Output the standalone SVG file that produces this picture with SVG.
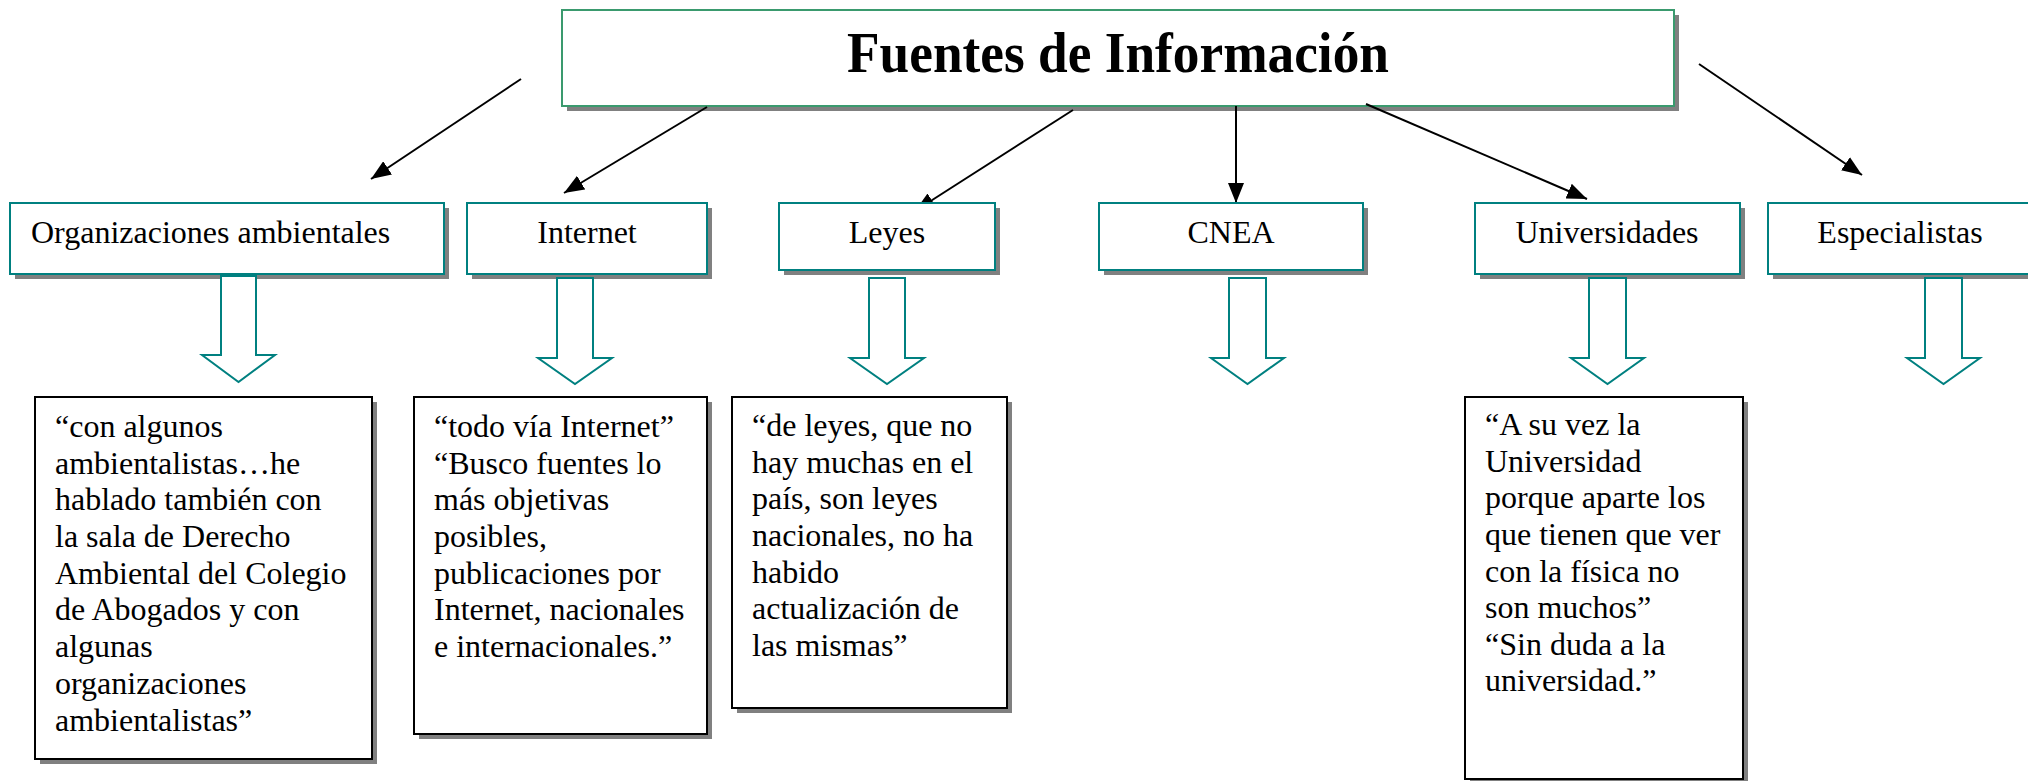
<svg xmlns="http://www.w3.org/2000/svg" width="2028" height="781" viewBox="0 0 2028 781">
<defs>
<style>
.shadow{fill:#808080;stroke:none}
.main{fill:#ffffff;stroke:#3a9a6e;stroke-width:2}
.cat{fill:#ffffff;stroke:#008080;stroke-width:2}
.quote{fill:#ffffff;stroke:#000000;stroke-width:2}
.block{fill:#ffffff;stroke:#008080;stroke-width:2;stroke-linejoin:miter}
.t{font-family:"Liberation Serif","Times New Roman",serif;font-size:32px;fill:#000000}
.title{font-family:"Liberation Serif","Times New Roman",serif;font-size:58px;font-weight:bold;fill:#000000}
.conn line{stroke:#000000;stroke-width:2;marker-end:url(#ah)}
</style>
<marker id="ah" markerUnits="userSpaceOnUse" markerWidth="22" markerHeight="16" refX="20" refY="8" orient="auto">
<path d="M0,0 L20,8 L0,16 z" fill="#000000"/>
</marker>
</defs>
<rect width="2028" height="781" fill="#ffffff"/>

<g id="main">
<rect class="shadow" x="567" y="15" width="1112" height="96"/>
<rect class="main" x="562" y="10" width="1112" height="96"/>
<text class="title" x="1118" y="72" text-anchor="middle" textLength="542" lengthAdjust="spacingAndGlyphs">Fuentes de Información</text>
</g>

<g id="connectors" class="conn">
<line x1="521" y1="79" x2="371" y2="179"/>
<line x1="707" y1="107" x2="564" y2="193"/>
<line x1="1073" y1="110" x2="915" y2="211"/>
<line x1="1236" y1="106" x2="1236" y2="203"/>
<line x1="1366" y1="104" x2="1587" y2="199"/>
<line x1="1699" y1="64" x2="1862" y2="175"/>
</g>

<g id="cat-org">
<rect class="shadow" x="15" y="208" width="434" height="71"/>
<rect class="cat" x="10" y="203" width="434" height="71"/>
<text class="t" x="31" y="243">Organizaciones ambientales</text>
<path class="block" d="M221,276 H256 V355 H275 L238.5,382 L202,355 H221 Z"/>
</g>

<g id="cat-internet">
<rect class="shadow" x="472" y="208" width="240" height="71"/>
<rect class="cat" x="467" y="203" width="240" height="71"/>
<text class="t" x="587" y="243" text-anchor="middle">Internet</text>
<path class="block" d="M557,278 H593 V358 H612 L575,384 L538,358 H557 Z"/>
</g>

<g id="cat-leyes">
<rect class="shadow" x="784" y="208" width="216" height="67"/>
<rect class="cat" x="779" y="203" width="216" height="67"/>
<text class="t" x="887" y="243" text-anchor="middle">Leyes</text>
<path class="block" d="M869,278 H905 V358 H924 L887,384 L850,358 H869 Z"/>
</g>

<g id="cat-cnea">
<rect class="shadow" x="1104" y="208" width="264" height="67"/>
<rect class="cat" x="1099" y="203" width="264" height="67"/>
<text class="t" x="1231" y="243" text-anchor="middle">CNEA</text>
<path class="block" d="M1229,278 H1266 V358 H1284 L1247.5,384 L1211,358 H1229 Z"/>
</g>

<g id="cat-universidades">
<rect class="shadow" x="1480" y="208" width="265" height="71"/>
<rect class="cat" x="1475" y="203" width="265" height="71"/>
<text class="t" x="1607" y="243" text-anchor="middle">Universidades</text>
<path class="block" d="M1589,278 H1626 V358 H1644 L1607.5,384 L1571,358 H1589 Z"/>
</g>

<g id="cat-especialistas">
<rect class="shadow" x="1773" y="208" width="264" height="71"/>
<rect class="cat" x="1768" y="203" width="264" height="71"/>
<text class="t" x="1900" y="243" text-anchor="middle">Especialistas</text>
<path class="block" d="M1925,278 H1962 V358 H1980 L1943.5,384 L1907,358 H1925 Z"/>
</g>

<g id="quote-org">
<rect class="shadow" x="40" y="402" width="337" height="362"/>
<rect class="quote" x="35" y="397" width="337" height="362"/>
<text class="t">
<tspan x="55" y="437">“con algunos</tspan>
<tspan x="55" y="474">ambientalistas…he</tspan>
<tspan x="55" y="510">hablado también con</tspan>
<tspan x="55" y="547">la sala de Derecho</tspan>
<tspan x="55" y="584">Ambiental del Colegio</tspan>
<tspan x="55" y="620">de Abogados y con</tspan>
<tspan x="55" y="657">algunas</tspan>
<tspan x="55" y="694">organizaciones</tspan>
<tspan x="55" y="731">ambientalistas”</tspan>
</text>
</g>

<g id="quote-internet">
<rect class="shadow" x="419" y="402" width="293" height="337"/>
<rect class="quote" x="414" y="397" width="293" height="337"/>
<text class="t">
<tspan x="434" y="437">“todo vía Internet”</tspan>
<tspan x="434" y="474">“Busco fuentes lo</tspan>
<tspan x="434" y="510">más objetivas</tspan>
<tspan x="434" y="547">posibles,</tspan>
<tspan x="434" y="584">publicaciones por</tspan>
<tspan x="434" y="620">Internet, nacionales</tspan>
<tspan x="434" y="657">e internacionales.”</tspan>
</text>
</g>

<g id="quote-leyes">
<rect class="shadow" x="737" y="402" width="275" height="311"/>
<rect class="quote" x="732" y="397" width="275" height="311"/>
<text class="t">
<tspan x="752" y="436">“de leyes, que no</tspan>
<tspan x="752" y="473">hay muchas en el</tspan>
<tspan x="752" y="509">país, son leyes</tspan>
<tspan x="752" y="546">nacionales, no ha</tspan>
<tspan x="752" y="583">habido</tspan>
<tspan x="752" y="619">actualización de</tspan>
<tspan x="752" y="656">las mismas”</tspan>
</text>
</g>

<g id="quote-universidades">
<rect class="shadow" x="1470" y="402" width="278" height="400"/>
<rect class="quote" x="1465" y="397" width="278" height="382"/>
<text class="t">
<tspan x="1485" y="435">“A su vez la</tspan>
<tspan x="1485" y="472">Universidad</tspan>
<tspan x="1485" y="508">porque aparte los</tspan>
<tspan x="1485" y="545">que tienen que ver</tspan>
<tspan x="1485" y="582">con la física no</tspan>
<tspan x="1485" y="618">son muchos”</tspan>
<tspan x="1485" y="655">“Sin duda a la</tspan>
<tspan x="1485" y="691">universidad.”</tspan>
</text>
</g>
</svg>
